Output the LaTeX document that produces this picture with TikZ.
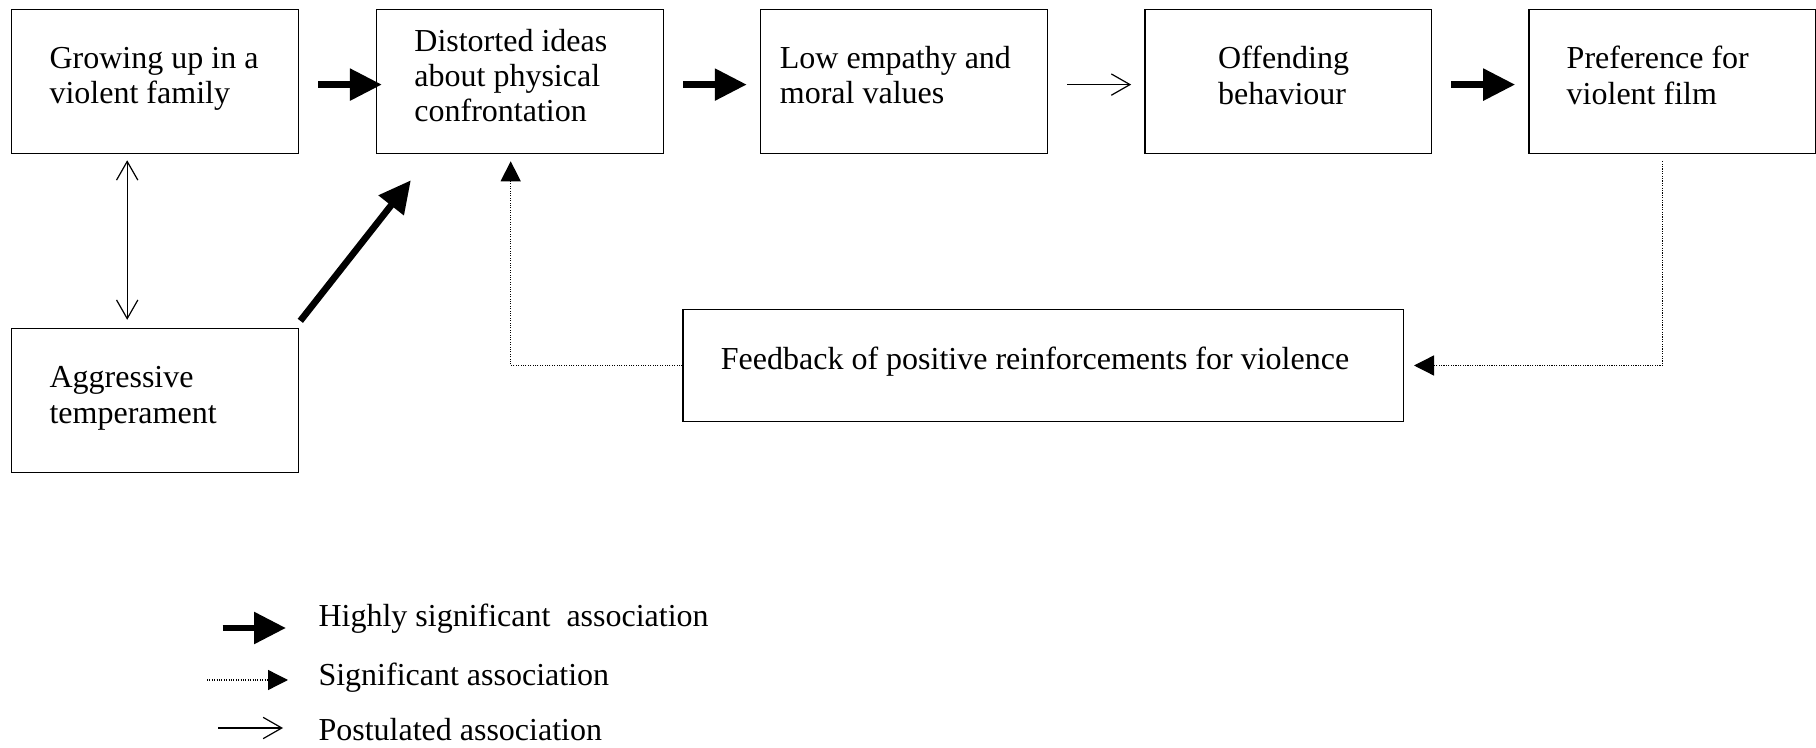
\documentclass[tikz,border=0pt]{standalone}
\usepackage{fontspec}
\setmainfont{Liberation Serif}
\usetikzlibrary{arrows.meta}

\begin{document}
\begin{tikzpicture}[x=0.375pt, y=-0.375pt,
	blk/.style={draw, line width=0.5pt, minimum height=54pt, inner xsep=14.2pt, text width=79.2pt, text depth=18pt, align=flush left, font=\fontsize{12pt}{13.2pt}\selectfont},
	lgd/.style={anchor=base west, inner sep=0pt, font=\fontsize{12pt}{13.2pt}\selectfont},
	hi/.style={line width=2.5pt, -{Triangle[length=12pt, width=11.5pt]}},
	sig/.style={line width=0.5pt, dash pattern=on 0.4pt off 0.5pt, -{Triangle[length=7.5pt, width=7.5pt]}},
	post/.style={line width=0.45pt, -{Straight Barb[length=7pt, width=8pt]}},
	both/.style={line width=0.45pt, {Straight Barb[length=7pt, width=8pt]}-{Straight Barb[length=7pt, width=8pt]}}]
	\useasboundingbox (0, 0) rectangle (1816, 748);
	\node[blk] (family) at (155.2, 81.6) {Growing up in a\\violent family};
	\node[blk, text depth=31.2pt] (distort) at (520, 81.6) {Distorted ideas\\about physical\\confrontation};
	\node[blk, inner xsep=7.3pt, text width=93pt] (empathy) at (903.9, 81.6) {Low empathy and\\moral values};
	\node[blk, inner xsep=27.5pt, text width=52.6pt] (offend) at (1288.3, 81.6) {Offending\\behaviour};
	\node[blk] (film) at (1672.3, 81.6) {Preference for\\violent film};
	\node[blk, text depth=17.4pt] (aggr) at (155.2, 400.5) {Aggressive\\temperament};
	\node[blk, text width=241.7pt, minimum height=42pt, text depth=5.6pt] (fback) at (1043.2, 365.5) {Feedback of positive reinforcements for violence};
	\draw[hi] ([shift={(19,3)}]family.east) -- ([shift={(6,3)}]distort.west);
	\draw[hi] ([shift={(19,3)}]distort.east) -- ([shift={(-13,3)}]empathy.west);
	\draw[post] ([shift={(19,3)}]empathy.east) -- ([shift={(-13,3)}]offend.west);
	\draw[hi] ([shift={(19,3)}]offend.east) -- ([shift={(-13,3)}]film.west);
	\draw[both] ([shift={(-28,6)}]family.south) -- ([shift={(-28,-8)}]aggr.north);
	\draw[hi] ([shift={(1,-7)}]aggr.north east) -- ([shift={(35,26)}]distort.south west);
	\draw[sig] (fback.west) -| ([shift={(-9.3,7)}]distort.south);
	\draw[sig] ([shift={(-9.6,7)}]film.south) |- ([shift={(10,0)}]fback.east);
	\coordinate (h1) at (222.7, 628);
	\coordinate (h2) at (286, 628);
	\coordinate (s1) at (207, 680);
	\coordinate (s2) at (288, 680);
	\coordinate (p1) at (218, 728);
	\coordinate (p2) at (283, 728);
	\draw[hi] (h1) -- (h2);
	\draw[sig] (s1) -- (s2);
	\draw[post] (p1) -- (p2);
	\node[lgd] (lhi) at (318, 627) {Highly significant~ association};
	\node[lgd] (lsig) at (318, 685) {Significant association};
	\node[lgd] (lpost) at (318, 740) {Postulated association};
\end{tikzpicture}
\end{document}
